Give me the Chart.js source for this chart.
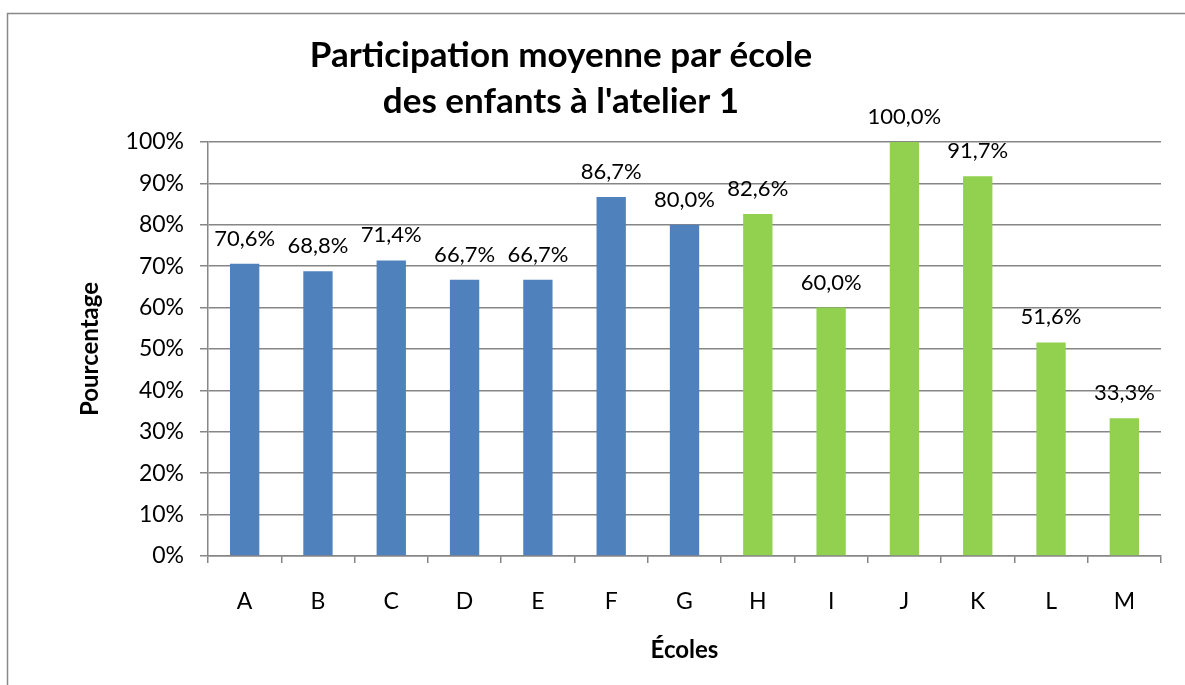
<!DOCTYPE html>
<html>
<head>
<meta charset="utf-8">
<script src="https://cdn.jsdelivr.net/npm/chart.js@4/dist/chart.umd.min.js"></script>
<style>
html, body { margin: 0; padding: 0; background: #fff; }
canvas { display: block; }
</style>
</head>
<body>
<canvas id="myChart" width="1185" height="685"></canvas>
<script>
// data
var schools = ['A', 'B', 'C', 'D', 'E', 'F', 'G', 'H', 'I', 'J', 'K', 'L', 'M'];
var participation = [70.6, 68.8, 71.4, 66.7, 66.7, 86.7, 80.0, 82.6, 60.0, 100.0, 91.7, 51.6, 33.3];
var yTicks = [0, 10, 20, 30, 40, 50, 60, 70, 80, 90, 100];
var titleLines = ['Participation moyenne par école', "des enfants à l'atelier 1"];

var FONT = 'Lato, Calibri, "Open Sans", sans-serif';
var gridColor = '#868686';

// first 7 schools in blue, the rest in green
var barColors = schools.map(function(s, i) {
    return i < 7 ? '#4F81BD' : '#92D050';
});

function fmtPct(v) {
    return v.toFixed(1).replace('.', ',') + '%';
}

// frame + title
var framePlugin = {
    id: 'frame',
    beforeDraw: function(chart) {
        var c = chart.ctx;
        c.save();
        c.fillStyle = '#fff';
        c.fillRect(0, 0, chart.width, chart.height);
        c.strokeStyle = '#898989';
        c.lineWidth = 1.5;
        c.strokeRect(7.5, 13.5, 1400, 1000);
        c.fillStyle = '#000';
        c.font = 'bold 35px ' + FONT;
        c.textAlign = 'center';
        c.textBaseline = 'alphabetic';
        c.fillText(titleLines[0], 561, 67);
        c.fillText(titleLines[1], 561, 113);
        c.restore();
    }
};

// value labels on top of bars
var labelPlugin = {
    id: 'barLabels',
    afterDatasetsDraw: function(chart) {
        var c = chart.ctx;
        var meta = chart.getDatasetMeta(0);
        c.save();
        c.fillStyle = '#000';
        c.font = '22px ' + FONT;
        c.textAlign = 'center';
        c.textBaseline = 'alphabetic';
        meta.data.forEach(function(bar, i) {
            c.fillText(fmtPct(participation[i]), bar.x, bar.y - 18);
        });
        c.restore();
    }
};

var ctx = document.getElementById('myChart');
var myChart = new Chart(ctx, {
    type: 'bar',
    data: {
        labels: schools,
        datasets: [{
            data: participation,
            backgroundColor: barColors,
            borderWidth: 0,
            barPercentage: 0.4,
            categoryPercentage: 1
        }]
    },
    options: {
        responsive: false,
        animation: false,
        layout: { padding: { left: 0, right: 24, top: 142, bottom: 0 } },
        plugins: {
            legend: { display: false },
            title: { display: false },
            tooltip: { enabled: false }
        },
        scales: {
            x: {
                offset: true,
                grid: {
                    offset: true,
                    drawOnChartArea: false,
                    drawTicks: true,
                    tickLength: 7,
                    color: gridColor,
                    lineWidth: 1.5
                },
                border: { color: gridColor, width: 1.5 },
                ticks: {
                    color: '#000',
                    padding: 25,
                    maxRotation: 0,
                    font: { family: FONT, size: 23 }
                },
                title: {
                    display: true,
                    text: 'Écoles',
                    color: '#000',
                    font: { family: FONT, size: 24, weight: 'bold' },
                    padding: { top: 0, bottom: 20 }
                },
                afterFit: function(scale) { scale.height = 129; }
            },
            y: {
                min: 0,
                max: 100,
                afterBuildTicks: function(scale) {
                    scale.ticks = yTicks.map(function(v) { return { value: v }; });
                },
                grid: {
                    color: gridColor,
                    lineWidth: 1.5,
                    tickLength: 8
                },
                border: { color: gridColor, width: 1.5 },
                ticks: {
                    color: '#000',
                    padding: 16,
                    font: { family: FONT, size: 23 },
                    callback: function(v) { return v + '%'; }
                },
                title: {
                    display: true,
                    text: 'Pourcentage',
                    color: '#000',
                    font: { family: FONT, size: 24, weight: 'bold' },
                    padding: { top: 76, bottom: 0 }
                },
                afterFit: function(scale) { scale.width = 208; }
            }
        }
    },
    plugins: [framePlugin, labelPlugin]
});
</script>
</body>
</html>
